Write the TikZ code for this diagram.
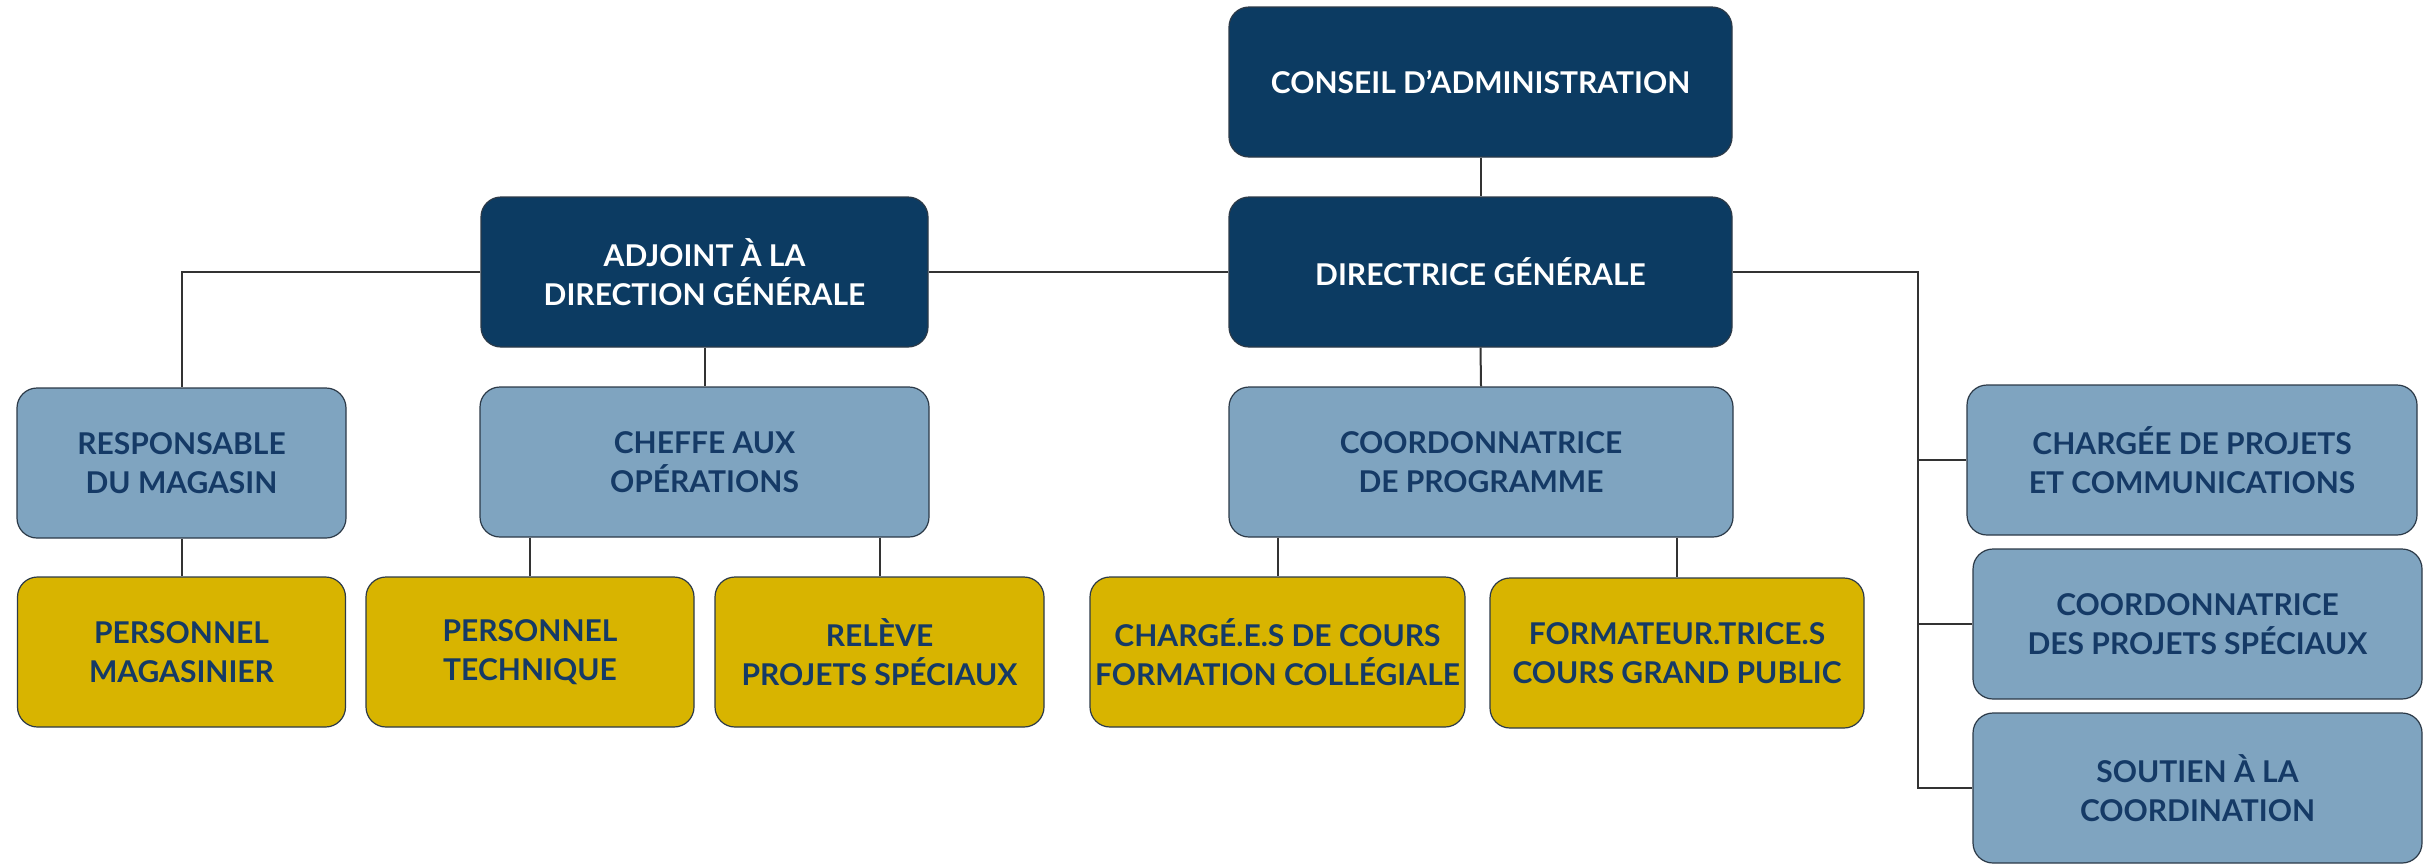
\documentclass[tikz,border=0pt]{standalone}
\usepackage{fontspec}
\setmainfont{Lato}
\definecolor{navy}{HTML}{0C3B62}
\definecolor{lightb}{HTML}{7FA4C0}
\definecolor{gold}{HTML}{D8B400}
\definecolor{txtnavy}{HTML}{153A66}
\definecolor{edge}{HTML}{2C3A48}
\definecolor{conn}{HTML}{333333}
\begin{document}
\begin{tikzpicture}[x=0.5pt,y=-0.5pt,
  box/.style={rectangle, rounded corners=10pt, draw=edge, line width=0.6pt,
    minimum height=75pt, align=center, inner sep=2pt,
    font=\fontsize{15}{19.5}\selectfont\bfseries},
  navybox/.style={box, fill=navy, text=white},
  lightbox/.style={box, fill=lightb, text=txtnavy},
  goldbox/.style={box, fill=gold, text=txtnavy},
  link/.style={draw=conn, line width=1pt}]
\useasboundingbox (0,0) rectangle (2435,864);
% top level
\node[navybox, minimum width=251.5pt] (conseil) at (1480.5,82) {CONSEIL D'ADMINISTRATION};
\node[navybox, minimum width=251.5pt] (directrice) at (1480.5,272) {DIRECTRICE GÉNÉRALE};
\node[navybox, minimum width=223.5pt] (adjoint) at (704.5,272) {ADJOINT À LA\\DIRECTION GÉNÉRALE};
% second level
\node[lightbox, minimum width=164.5pt] (responsable) at (181.5,463) {RESPONSABLE\\DU MAGASIN};
\node[lightbox, minimum width=224.5pt] (cheffe) at (704.5,462) {CHEFFE AUX\\OPÉRATIONS};
\node[lightbox, minimum width=252pt] (coordprog) at (1481,462) {COORDONNATRICE\\DE PROGRAMME};
\node[lightbox, minimum width=225pt] (chargeeproj) at (2192,460) {CHARGÉE DE PROJETS\\ET COMMUNICATIONS};
\node[lightbox, minimum width=224.5pt] (coordspec) at (2197.5,624) {COORDONNATRICE\\DES PROJETS SPÉCIAUX};
\node[lightbox, minimum width=224.5pt] (soutien) at (2197.5,788) {SOUTIEN À LA\\COORDINATION};
% third level
\node[goldbox, minimum width=164pt] (persmag) at (181.5,652) {PERSONNEL\\MAGASINIER};
\node[goldbox, minimum width=164pt] (perstech) at (530,652) {PERSONNEL\\TECHNIQUE};
\node[goldbox, minimum width=164.5pt] (releve) at (879.5,652) {RELÈVE\\PROJETS SPÉCIAUX};
\node[goldbox, minimum width=187.5pt] (charges) at (1277.5,652) {CHARGÉ.E.S DE COURS\\FORMATION COLLÉGIALE};
\node[goldbox, minimum width=187pt] (formateur) at (1677,653) {FORMATEUR.TRICE.S\\COURS GRAND PUBLIC};
% connectors
\draw[link] (conseil.south) -- (directrice.north);
\draw[link] (directrice.west) -- (adjoint.east);
\draw[link] (adjoint.west) -| (responsable.north);
\draw[link] (adjoint.south) -- (cheffe.north);
\draw[link] (responsable.south) -- (persmag.north);
\draw[link] (cheffe.south -| perstech.north) -- (perstech.north);
\draw[link] (cheffe.south -| releve.north) -- (releve.north);
\draw[link] (directrice.south) -- (coordprog.north);
\draw[link] (coordprog.south -| charges.north) -- (charges.north);
\draw[link] (coordprog.south -| formateur.north) -- (formateur.north);
\coordinate (bus) at (1918,272);
\draw[link] (directrice.east) -- (bus) |- (soutien.west);
\draw[link] (bus |- chargeeproj.west) -- (chargeeproj.west);
\draw[link] (bus |- coordspec.west) -- (coordspec.west);
\end{tikzpicture}
\end{document}
